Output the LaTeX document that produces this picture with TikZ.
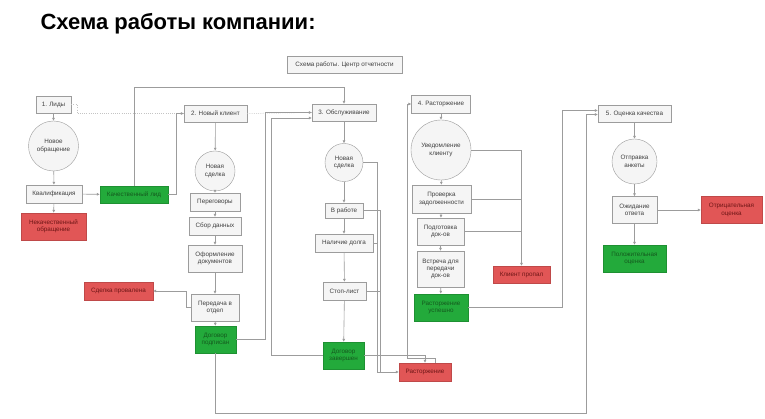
\documentclass[tikz,border=0pt]{standalone}
\usepackage{fontspec}
\setmainfont{Liberation Sans}
\usetikzlibrary{arrows.meta}
\definecolor{lgray}{HTML}{9C9C9C}
\definecolor{boxfill}{HTML}{F5F5F5}
\definecolor{okgreen}{HTML}{23AA3B}
\definecolor{okdark}{HTML}{145A1E}
\definecolor{badred}{HTML}{E15656}
\definecolor{baddark}{HTML}{6E1616}
\tikzset{
  blk/.style={draw=lgray,fill=boxfill,text=black!75,align=center,inner sep=0pt,
    font=\fontsize{6.3}{7.4}\selectfont},
  sz/.style 2 args={minimum width=#1pt,minimum height=#2pt},
  circ/.style={blk,circle,minimum size=#1pt},
  ok/.style={blk,draw=okgreen!85!black,fill=okgreen,text=okdark},
  bad/.style={blk,draw=badred!85!black,fill=badred,text=baddark},
  link/.style={draw=lgray,line width=0.6pt},
  arr/.style={link,-{Latex[length=3pt,width=3pt]}},
  dots/.style={draw=lgray!60,line width=0.5pt,dash pattern=on 1pt off 1.2pt}
}
\begin{document}
\begin{tikzpicture}[x=1pt,y=-1pt]
  \useasboundingbox (0,0) rectangle (765,419);
  \fill[white] (0,0) rectangle (765,419);
  \node[anchor=base west,font=\bfseries\fontsize{22}{26}\selectfont] (title) at (37,30) {Схема работы компании:};
  \node[blk,sz={115}{17}] (shema) at (344.5,64.5) {Схема работы. Центр отчетности};

  \node[blk,sz={35}{17}] (lid) at (53.5,104.5) {1. Лиды};
  \node[circ=50] (obr) at (53.5,146) {Новое\\обращение};
  \node[blk,sz={56}{18}] (kval) at (54,194) {Квалификация};
  \node[bad,sz={65}{27}] (nekach) at (53.5,226.5) {Некачественный\\обращение};
  \node[ok,sz={68}{17}] (kach) at (134,194.5) {Качественный лид};

  \node[blk,sz={63}{17}] (nov) at (215.5,113.5) {2. Новый клиент};
  \node[circ=40] (sd1) at (215,171) {Новая\\сделка};
  \node[blk,sz={50}{18}] (perg) at (215,202) {Переговоры};
  \node[blk,sz={52}{18}] (sbor) at (215,226) {Сбор данных};
  \node[blk,sz={54}{27}] (oform) at (215,258.5) {Оформление\\документов};
  \node[blk,sz={48}{27}] (pered) at (215,307.5) {Передача в\\отдел};
  \node[ok,sz={41}{27}] (podp) at (215.5,339.5) {Договор\\подписан};
  \node[bad,sz={69}{18}] (prov) at (118.5,291) {Сделка провалена};

  \node[blk,sz={64}{17}] (obs) at (344,112.5) {3. Обслуживание};
  \node[circ=38] (sd2) at (344,162.5) {Новая\\сделка};
  \node[blk,sz={38}{15}] (rab) at (344,210.5) {В работе};
  \node[blk,sz={58}{18}] (dolg) at (344,243) {Наличие долга};
  \node[blk,sz={43}{18}] (stop) at (344.5,291) {Стоп-лист};
  \node[ok,sz={41}{27}] (zav) at (343.5,355.5) {Договор\\завершен};
  \node[bad,sz={52}{18}] (rast) at (425,372) {Расторжение};

  \node[blk,sz={59}{18}] (rst) at (441,104) {4. Расторжение};
  \node[circ=60] (uved) at (441,150) {Уведомление\\клиенту};
  \node[blk,sz={59}{28}] (prv) at (441.5,199) {Проверка\\задолженности};
  \node[blk,sz={47}{27}] (podg) at (440.5,231.5) {Подготовка\\док-ов};
  \node[blk,sz={47}{36}] (vstr) at (440.5,269) {Встреча для\\передачи\\док-ов};
  \node[ok,sz={54}{27}] (usp) at (441,307.5) {Расторжение\\успешно};
  \node[bad,sz={57}{17}] (propal) at (521.5,274.5) {Клиент пропал};

  \node[blk,sz={73}{17}] (ocen) at (634.5,113.5) {5. Оценка качества};
  \node[circ=45] (anket) at (634.5,161.5) {Отправка\\анкеты};
  \node[blk,sz={45}{27}] (ozh) at (634.5,210) {Ожидание\\ответа};
  \node[bad,sz={61}{27}] (otr) at (731.5,210) {Отрицательная\\оценка};
  \node[ok,sz={63}{27}] (pol) at (634.5,258.5) {Положительная\\оценка};

  \draw[arr] (lid) -- (obr);
  \draw[arr] (obr) -- (kval);
  \draw[arr] (kval) -- (nekach);
  \draw[arr] (kval) -- (kach);
  \draw[dots] (lid.east) -- (77,104.5) -- (77,113.5) -- (nov.west);
  \draw[dots] (nov.east) -- (obs.west);
  \draw[arr] (kach.east) -| (176,113.5) -- (nov.west);
  \draw[arr] (kach.north) |- (344,87) -- (obs.north);

  \draw[arr] (nov) -- (sd1);
  \draw[arr] (sd1) -- (perg);
  \draw[arr] (perg) -- (sbor);
  \draw[arr] (sbor) -- (oform);
  \draw[arr] (oform) -- (pered);
  \draw[arr] (pered) -- (podp);
  \draw[arr] (pered.west) -| (186,291) -- (prov.east);
  \draw[arr] (podp.east) -| (265,112.5) -- (obs.west);
  \draw[arr] (zav.west) -| (271,118) -- ([yshift=-5.5pt]obs.west);
  \draw[arr] (podp.south) |- (586,413) |- ([yshift=-1pt]ocen.west);

  \draw[arr] (obs) -- (sd2);
  \draw[arr] (sd2) -- (rab);
  \draw[arr] (rab) -- (dolg);
  \draw[arr] (dolg) -- (stop);
  \draw[arr] (stop) -- (zav);
  \draw[arr] (sd2.east) -| (377,372) -- (rast.west);
  \draw[link] (dolg.east) -- (377,243);
  \draw[link] (rab.east) -| (380,372);
  \draw[link] (stop.east) -- (380,291);
  \draw[arr] (zav.east) -| (rast.north);
  \draw[arr] ([xshift=10pt]rast.north) |- (407,358) |- (rst.west);

  \draw[arr] (rst) -- (uved);
  \draw[arr] (uved) -- (prv);
  \draw[arr] (prv) -- (podg);
  \draw[arr] (podg) -- (vstr);
  \draw[arr] (vstr) -- (usp);
  \draw[arr] (uved.east) -| (propal.north);
  \draw[link] (prv.east) -- (521.5,199);
  \draw[link] (podg.east) -- (521.5,231.5);
  \draw[arr] (usp.east) -| (562,110.5) -- ([yshift=3pt]ocen.west);

  \draw[arr] (ocen) -- (anket);
  \draw[arr] (anket) -- (ozh);
  \draw[arr] (ozh) -- (pol);
  \draw[arr] (ozh) -- (otr);
\end{tikzpicture}
\end{document}
